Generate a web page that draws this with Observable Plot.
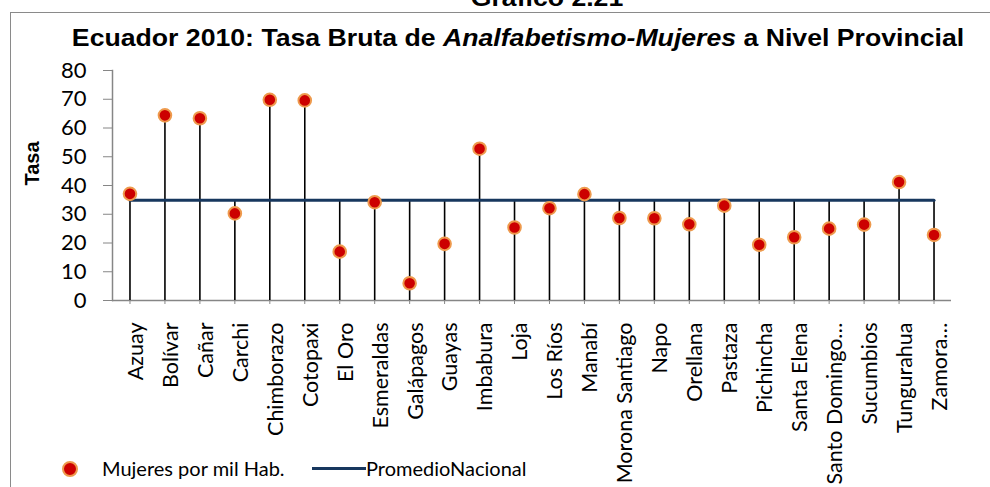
<!DOCTYPE html>
<html>
<head>
<meta charset="utf-8">
<script src="https://cdn.jsdelivr.net/npm/d3@7"></script>
<script src="https://cdn.jsdelivr.net/npm/@observablehq/plot@0.6"></script>
<style>
  html, body { margin: 0; padding: 0; background: #fff; overflow: hidden; }
  #wrap { position: relative; width: 990px; height: 487px; overflow: hidden; }
  #frame { position: absolute; left: 10px; top: 12px; width: 2000px; height: 2000px;
           border-left: 1.5px solid #8a8a8a; border-top: 1.5px solid #8a8a8a; }
  .ttl { position: absolute; font-family: "Liberation Sans", Arial, sans-serif; font-weight: bold;
         font-size: 24px; line-height: 24px; white-space: nowrap; transform: translateX(-50%) scaleX(1.11); color: #000; }
  #chart { position: absolute; left: 0; top: 0; }
  .leg { position: absolute; font-family: Lato, sans-serif; font-size: 20px; line-height: 20px; white-space: nowrap; color: #000; }
  .legdot { position: absolute; width: 12px; height: 12px; border-radius: 50%; background: #CC0000; border: 2px solid #EE9A4D; }
  .legline { position: absolute; height: 3px; background: #17375E; }
</style>
</head>
<body>
<div id="wrap">
  <div id="frame"></div>
  <div class="ttl" style="left:547px; top:-14px;">Gráfico 2.21</div>
  <div class="ttl" style="left:518px; top:26px;">Ecuador 2010: Tasa Bruta de <i>Analfabetismo-Mujeres</i> a Nivel Provincial</div>
  <div id="chart"></div>
  <div class="legdot" style="left:62px; top:461px;"></div>
  <div class="leg" style="left:102px; top:458px;">Mujeres por mil Hab.</div>
  <div class="legline" style="left:312px; width:54px; top:467px;"></div>
  <div class="leg" style="left:366px; top:458px;">PromedioNacional</div>
</div>
<script>
const provinces = ["Azuay","Bolívar","Cañar","Carchi","Chimborazo","Cotopaxi","El Oro","Esmeraldas","Galápagos","Guayas","Imbabura","Loja","Los Ríos","Manabí","Morona Santiago","Napo","Orellana","Pastaza","Pichincha","Santa Elena","Santo Domingo…","Sucumbios","Tungurahua","Zamora…"];
const tasa = [37.1, 64.4, 63.4, 30.3, 69.8, 69.6, 17.0, 34.2, 6.0, 19.7, 52.8, 25.4, 32.1, 37.0, 28.7, 28.6, 26.5, 33.0, 19.4, 22.0, 25.0, 26.4, 41.2, 22.8];
const promedioNacional = 34.9;
const yTicks = [0, 10, 20, 30, 40, 50, 60, 70, 80];

const data = provinces.map((p, i) => ({prov: p, v: tasa[i], avg: promedioNacional}));

const chart = Plot.plot({
  width: 990,
  height: 487,
  marginLeft: 112,
  marginRight: 39,
  marginTop: 70,
  marginBottom: 187,
  style: {fontFamily: "Lato, sans-serif", fontSize: "21px", color: "#000", background: "transparent"},
  x: {type: "band", domain: provinces, padding: 0, round: false, axis: null},
  y: {domain: [0, 80], axis: null},
  marks: [
    Plot.frame({anchor: "left", stroke: "#868686", strokeWidth: 1.5}),
    Plot.ruleY([0], {stroke: "#868686", strokeWidth: 1.5}),
    Plot.axisY({ticks: yTicks, tickSize: 9, tickPadding: 17, fontSize: 22, stroke: "#868686", fill: "#000", label: null}),
    Plot.axisX({tickSize: 4, tickFormat: () => "", stroke: "#868686", label: null}),
    Plot.axisX({tickSize: 0, tickPadding: 22, tickRotate: -90, fontSize: 21.5, fill: "#000", dx: 6, label: null}),
    Plot.text(["Tasa"], {frameAnchor: "left", rotate: -90, dx: -80, fontSize: 20, fontWeight: "bold", fontFamily: "Liberation Sans, Arial, sans-serif", fill: "#000"}),
    Plot.ruleX(data, {x: "prov", y1: 0, y2: d => Math.max(d.v, d.avg), stroke: "#000", strokeWidth: 1.6}),
    Plot.lineY(data, {x: "prov", y: "avg", stroke: "#17375E", strokeWidth: 3}),
    Plot.dot(data, {x: "prov", y: "v", r: 6.3, fill: "#CC0000", stroke: "#EE9A4D", strokeWidth: 2})
  ]
});
document.getElementById("chart").appendChild(chart);
</script>
</body>
</html>
